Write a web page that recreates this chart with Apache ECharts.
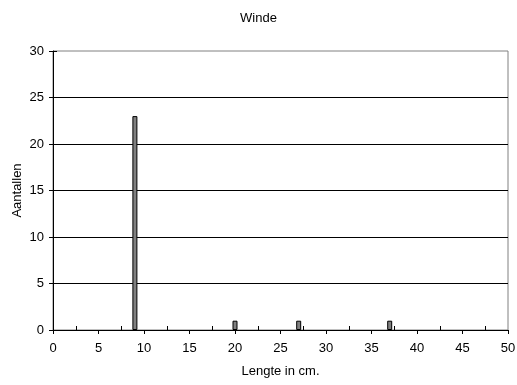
<!DOCTYPE html>
<html>
<head>
<meta charset="utf-8">
<script src="https://cdn.jsdelivr.net/npm/echarts@6/dist/echarts.min.js"></script>
<style>html,body{margin:0;padding:0;background:#fff}#c{width:517px;height:385px}</style>
</head>
<body>
<div id="c"></div>
<script>
var lengths = [9, 20, 27, 37];
var counts = [23, 1, 1, 1];
var minorTickValues = [2.5, 7.5, 12.5, 17.5, 22.5, 27.5, 32.5, 37.5, 42.5, 47.5];
var titleText = 'Winde';
var xName = 'Lengte in cm.';
var yName = 'Aantallen';

var font = 'Liberation Sans, Arial, sans-serif';
var chart = echarts.init(document.getElementById('c'), null, {renderer: 'canvas'});
var data = lengths.map(function (l, i) { return [l, counts[i]]; });
chart.setOption({
  animation: false,
  backgroundColor: '#fff',
  title: {text: titleText, left: 'center', top: 7, textStyle: {fontFamily: font, fontSize: 13, fontWeight: 'normal', color: '#000'}},
  grid: {left: 53, right: 9, top: 51, bottom: 55, outerBoundsMode: 'none', containLabel: false, show: true, borderColor: '#808080', borderWidth: 1, backgroundColor: 'transparent'},
  xAxis: [
    {type: 'value', min: 0, max: 50, interval: 5, position: 'bottom',
     name: xName, nameLocation: 'middle', nameGap: 35, nameMoveOverlap: false,
     nameTextStyle: {fontFamily: font, fontSize: 13, color: '#000'},
     axisLine: {show: true, lineStyle: {color: '#000', width: 1}},
     axisTick: {show: true, inside: false, length: 4, lineStyle: {color: '#000'}},
     axisLabel: {fontFamily: font, fontSize: 13, color: '#000', margin: 12},
     splitLine: {show: false}},
    {type: 'value', min: 0, max: 50, position: 'bottom',
     axisLine: {show: false},
     axisTick: {show: true, inside: true, length: 4, customValues: minorTickValues, lineStyle: {color: '#000'}},
     axisLabel: {show: false},
     splitLine: {show: false}}
  ],
  yAxis: [
    {type: 'value', min: 0, max: 30, interval: 5, position: 'left',
     name: yName, nameLocation: 'middle', nameGap: 29, nameMoveOverlap: false,
     nameTextStyle: {fontFamily: font, fontSize: 13, color: '#000'},
     axisLine: {show: true, lineStyle: {color: '#000', width: 1}},
     axisTick: {show: true, inside: false, length: 4, lineStyle: {color: '#000'}},
     axisLabel: {fontFamily: font, fontSize: 13, color: '#000', margin: 9},
     splitLine: {show: true, showMinLine: false, showMaxLine: false, lineStyle: {color: '#000', width: 1}}},
    {type: 'value', min: 0, max: 30, interval: 5, position: 'left',
     axisLine: {show: false},
     axisTick: {show: true, inside: true, length: 4, lineStyle: {color: '#000'}},
     axisLabel: {show: false},
     splitLine: {show: false}}
  ],
  series: [{
    type: 'bar', xAxisIndex: 0, yAxisIndex: 0, data: data, barWidth: 5,
    itemStyle: {color: '#808080', borderColor: '#000', borderWidth: 1}
  }]
});
</script>
</body>
</html>
